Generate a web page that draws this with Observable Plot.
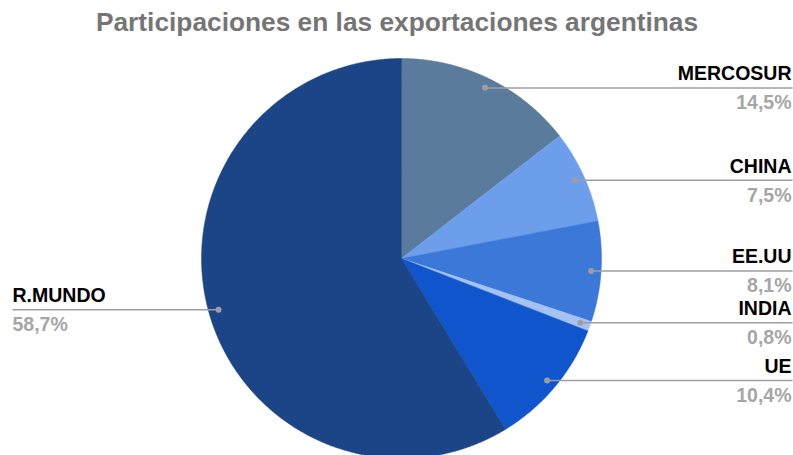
<!DOCTYPE html>
<html>
<head>
<meta charset="utf-8">
<script src="https://cdn.jsdelivr.net/npm/d3@7"></script>
<script src="https://cdn.jsdelivr.net/npm/@observablehq/plot@0.6"></script>
<style>
  html, body { margin: 0; padding: 0; background: #fff; }
  svg { display: block; }
</style>
</head>
<body>
<div id="chart"></div>
<script>
const title = "Participaciones en las exportaciones argentinas";
const categories = ["MERCOSUR", "CHINA", "EE.UU", "INDIA", "UE", "R.MUNDO"];
const values = [14.5, 7.5, 8.1, 0.8, 10.4, 58.7];
const valueLabels = ["14,5%", "7,5%", "8,1%", "0,8%", "10,4%", "58,7%"];
const colors = ["#5b7b9d", "#6d9eeb", "#3c78d8", "#a4c2f4", "#1155cc", "#1c4587"];

const W = 793, H = 455;
const cx = 401, cy = 258, R = 200;
// scales in "radius units": centre (0,0), radius 1
const xDomain = [-cx / R, (W - cx) / R];
const yDomain = [-(H - cy) / R, cy / R];

const arcs = d3.pie().sort(null).value(d => d)(values);

// slice outlines
const slicePts = [];
arcs.forEach((a, i) => {
  const cat = categories[i];
  slicePts.push({cat, x: 0, y: 0});
  const n = Math.max(2, Math.ceil((a.endAngle - a.startAngle) / (Math.PI / 360)));
  for (let k = 0; k <= n; k++) {
    const t = a.startAngle + (a.endAngle - a.startAngle) * k / n;
    slicePts.push({cat, x: Math.sin(t), y: Math.cos(t)});
  }
  slicePts.push({cat, x: 0, y: 0});
});

// label anchors
const labels = arcs.map((a, i) => {
  const t = (a.startAngle + a.endAngle) / 2;
  const x = 0.95 * Math.sin(t), y = 0.95 * Math.cos(t);
  const right = x >= 0;
  return {
    cat: categories[i], val: valueLabels[i], x, y, right,
    xEnd: right ? xDomain[1] - 0.005 : xDomain[0] + 0.06
  };
});
const rightLabels = labels.filter(d => d.right);
const leftLabels = labels.filter(d => !d.right);

const font = "'Liberation Sans', Arial, sans-serif";

const plot = Plot.plot({
  width: W,
  height: H,
  margin: 0,
  x: {domain: xDomain, axis: null},
  y: {domain: yDomain, axis: null},
  color: {domain: categories, range: colors},
  style: {fontFamily: font, background: "#fff"},
  marks: [
    Plot.line(slicePts, {x: "x", y: "y", z: "cat", fill: "cat", stroke: "cat", strokeWidth: 0.5, curve: "linear"}),
    Plot.link(labels, {x1: "x", y1: "y", x2: "xEnd", y2: "y", stroke: "#9e9e9e", strokeWidth: 1.5}),
    Plot.dot(labels, {x: "x", y: "y", r: 3, fill: "#9e9e9e"}),
    Plot.text(rightLabels, {x: "xEnd", y: "y", text: "cat", textAnchor: "end",
      dx: -1, dy: -14, fontSize: 19.5, fontWeight: "bold", fill: "#000"}),
    Plot.text(rightLabels, {x: "xEnd", y: "y", text: "val", textAnchor: "end",
      dx: -1, dy: 15, fontSize: 19.5, fontWeight: "bold", fill: "#a6a6a6"}),
    Plot.text(leftLabels, {x: "xEnd", y: "y", text: "cat", textAnchor: "start",
      dy: -14, fontSize: 19.5, fontWeight: "bold", fill: "#000"}),
    Plot.text(leftLabels, {x: "xEnd", y: "y", text: "val", textAnchor: "start",
      dy: 15, fontSize: 19.5, fontWeight: "bold", fill: "#a6a6a6"}),
    Plot.text([title], {frameAnchor: "top", text: d => d, dy: 12, fontSize: 26.3, fontWeight: "bold", fill: "#757575"})
  ]
});
document.getElementById("chart").appendChild(plot);
</script>
</body>
</html>
